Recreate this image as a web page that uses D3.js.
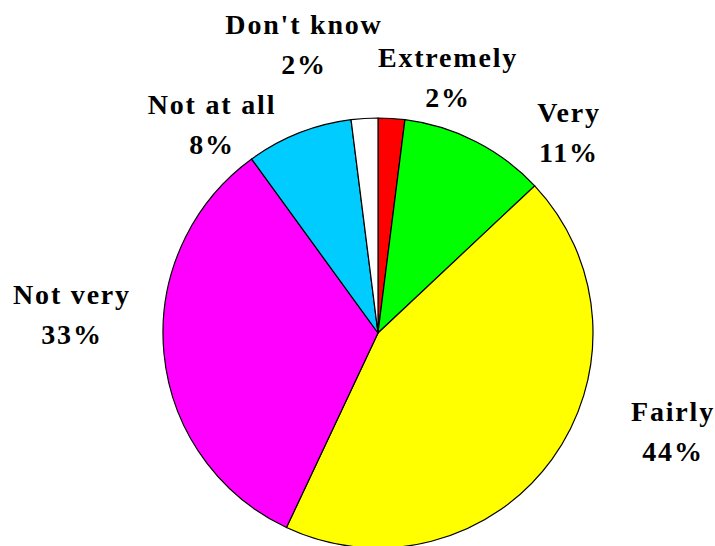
<!DOCTYPE html>
<html>
<head>
<meta charset="utf-8">
<script src="https://cdn.jsdelivr.net/npm/d3@7"></script>
<style>
  html, body { margin: 0; padding: 0; background: #fff; }
  svg { display: block; }
  text { font-family: "Liberation Serif", "Times New Roman", serif; font-weight: bold; font-size: 28px; letter-spacing: 1.8px; fill: #000; }
</style>
</head>
<body>
<svg id="chart" width="715" height="546"></svg>
<script>
// Answer categories, clockwise from 12 o'clock
const categories = ["Extremely", "Very", "Fairly", "Not very", "Not at all", "Don't know"];
const percents = [2, 11, 44, 33, 8, 2];
const colors = ["#FF0000", "#00FF00", "#FFFF00", "#FF00FF", "#00CCFF", "#FFFFFF"];
// label anchor points (centre of the two-line label)
const labelX = [448, 569, 673, 72, 212, 304];
const labelY = [86, 141, 440, 323, 133, 53];

const cx = 378, cy = 333, r = 215;

const svg = d3.select("#chart");

const pie = d3.pie().sort(null).value(d => d.value);
const arc = d3.arc().innerRadius(0).outerRadius(r);

const data = categories.map((c, i) => ({ name: c, value: percents[i], color: colors[i], lx: labelX[i], ly: labelY[i] }));

const g = svg.append("g").attr("transform", `translate(${cx},${cy})`);
g.selectAll("path")
  .data(pie(data))
  .join("path")
  .attr("d", arc)
  .attr("fill", d => d.data.color)
  .attr("stroke", "#000")
  .attr("stroke-width", 1.2)
  .attr("stroke-linejoin", "round");

const labels = svg.append("g").selectAll("text")
  .data(data)
  .join("text")
  .attr("text-anchor", "middle")
  .attr("x", d => d.lx)
  .attr("y", d => d.ly);
labels.append("tspan").attr("x", d => d.lx).attr("dy", -19).text(d => d.name);
labels.append("tspan").attr("x", d => d.lx).attr("dy", 40).text(d => d.value + "%");
</script>
</body>
</html>
